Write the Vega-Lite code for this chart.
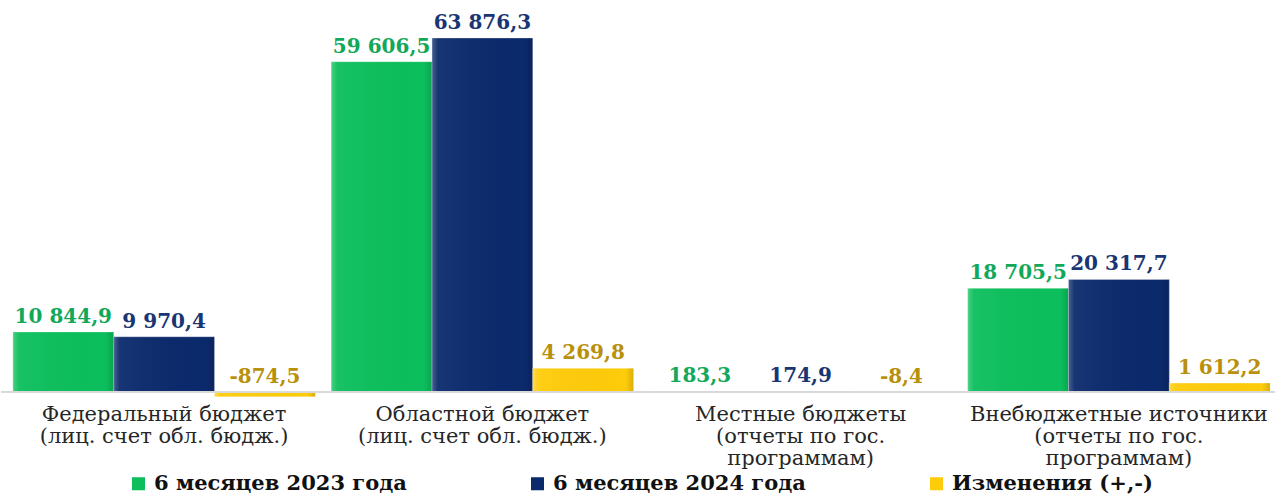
{
  "$schema": "https://vega.github.io/schema/vega-lite/v6.json",
  "width": 1275,
  "height": 400,
  "padding": 0,
  "background": "white",
  "config": {
    "view": {"stroke": null},
    "locale": {"number": {"decimal": ",", "thousands": " ", "grouping": [3], "currency": ["", ""], "minus": "-"}}
  },
  "data": {"values": [
    {"cat": "Федеральный бюджет|(лиц. счет обл. бюдж.)", "series": "6 месяцев 2023 года", "value": 10844.9},
    {"cat": "Федеральный бюджет|(лиц. счет обл. бюдж.)", "series": "6 месяцев 2024 года", "value": 9970.4},
    {"cat": "Федеральный бюджет|(лиц. счет обл. бюдж.)", "series": "Изменения (+,-)", "value": -874.5},
    {"cat": "Областной бюджет|(лиц. счет обл. бюдж.)", "series": "6 месяцев 2023 года", "value": 59606.5},
    {"cat": "Областной бюджет|(лиц. счет обл. бюдж.)", "series": "6 месяцев 2024 года", "value": 63876.3},
    {"cat": "Областной бюджет|(лиц. счет обл. бюдж.)", "series": "Изменения (+,-)", "value": 4269.8},
    {"cat": "Местные бюджеты|(отчеты по гос.|программам)", "series": "6 месяцев 2023 года", "value": 183.3},
    {"cat": "Местные бюджеты|(отчеты по гос.|программам)", "series": "6 месяцев 2024 года", "value": 174.9},
    {"cat": "Местные бюджеты|(отчеты по гос.|программам)", "series": "Изменения (+,-)", "value": -8.4},
    {"cat": "Внебюджетные источники|(отчеты по гос.|программам)", "series": "6 месяцев 2023 года", "value": 18705.5},
    {"cat": "Внебюджетные источники|(отчеты по гос.|программам)", "series": "6 месяцев 2024 года", "value": 20317.7},
    {"cat": "Внебюджетные источники|(отчеты по гос.|программам)", "series": "Изменения (+,-)", "value": 1612.2}
  ]},
  "layer": [
    {
      "mark": {"type": "bar", "stroke": "#ffffff", "strokeOpacity": 0.3, "strokeWidth": 1},
      "encoding": {
        "x": {
          "field": "cat", "type": "nominal", "sort": null,
          "scale": {"paddingInner": 0.05, "paddingOuter": 0.028, "range": [3, 1278]},
          "axis": {
            "title": null, "domain": false, "ticks": false, "labelAngle": 0,
            "labelExpr": "split(datum.label, '|')",
            "labelFont": "DejaVu Serif", "labelFontSize": 21, "labelColor": "#262626",
            "labelLineHeight": 22, "labelPadding": 3, "labelBaseline": "top", "labelLimit": 400
          }
        },
        "xOffset": {"field": "series", "type": "nominal", "sort": null, "scale": {"paddingInner": 0, "paddingOuter": 0}},
        "y": {"field": "value", "type": "quantitative", "scale": {"domain": [-1443, 70733], "nice": false, "zero": false}, "axis": null},
        "color": {
          "field": "series", "type": "nominal", "sort": null,
          "scale": {"domain": ["6 месяцев 2023 года", "6 месяцев 2024 года", "Изменения (+,-)"], "range": ["#0cbf5c", "#0b2a6c", "#ffcc0a"]},
          "legend": {
            "title": null, "orient": "none", "direction": "horizontal", "legendX": 127, "legendY": 473,
            "symbolType": "square", "symbolSize": 170, "symbolStrokeWidth": 0,
            "labelFont": "DejaVu Serif", "labelFontSize": 21, "labelFontWeight": "bold", "labelColor": "#111111",
            "columnPadding": 120, "labelOffset": 5, "labelLimit": 400
          }
        }
      }
    },
    {
      "mark": {"type": "bar", "fill": {"gradient": "linear", "x1": 0, "y1": 0, "x2": 1, "y2": 0, "stops": [
        {"offset": 0, "color": "rgba(255,255,255,0.25)"},
        {"offset": 0.06, "color": "rgba(255,255,255,0.05)"},
        {"offset": 0.92, "color": "rgba(0,0,0,0)"},
        {"offset": 1, "color": "rgba(0,0,0,0.15)"}
      ]}},
      "encoding": {
        "x": {"field": "cat", "type": "nominal", "sort": null},
        "xOffset": {"field": "series", "type": "nominal", "sort": null},
        "y": {"field": "value", "type": "quantitative"}
      }
    },
    {
      "mark": {"type": "rule", "color": "#d9d9d9", "strokeWidth": 1},
      "encoding": {"y": {"datum": 0, "type": "quantitative"}}
    },
    {
      "transform": [{"calculate": "max(datum.value, 0)", "as": "top"}],
      "mark": {"type": "text", "font": "DejaVu Serif", "fontSize": 20, "fontWeight": "bold", "baseline": "alphabetic", "dy": -9},
      "encoding": {
        "x": {"field": "cat", "type": "nominal", "sort": null},
        "xOffset": {"field": "series", "type": "nominal", "sort": null},
        "y": {"field": "top", "type": "quantitative"},
        "text": {"field": "value", "type": "quantitative", "format": ",.1f"},
        "fill": {
          "field": "series", "type": "nominal", "sort": null, "legend": null,
          "scale": {"domain": ["6 месяцев 2023 года", "6 месяцев 2024 года", "Изменения (+,-)"], "range": ["#12a85a", "#1a3573", "#b8900c"]}
        }
      }
    }
  ]
}
